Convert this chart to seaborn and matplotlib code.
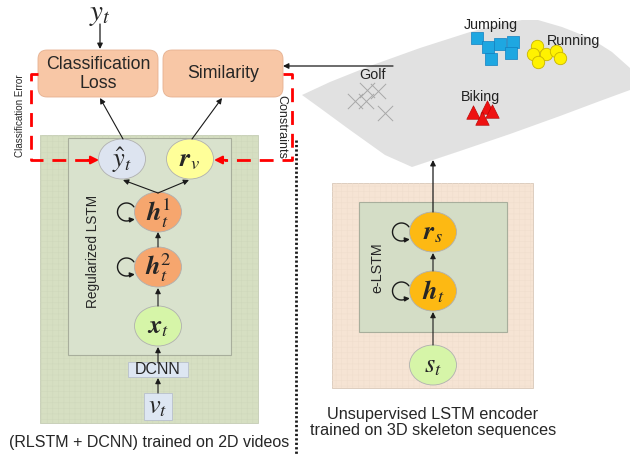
import numpy as np
import pandas as pd
import matplotlib
matplotlib.use("Agg")
import matplotlib.pyplot as plt
from matplotlib.patches import FancyBboxPatch, Rectangle, Ellipse, Polygon
import seaborn as sns

sns.set_theme(style="white")
plt.rcParams['font.family'] = ['Liberation Sans', 'DejaVu Sans']
plt.rcParams['mathtext.fontset'] = 'stix'
plt.rcParams['hatch.linewidth'] = 0.4

# ---------------- data ----------------
box_labels = ["Classification\nLoss", "Similarity"]
left_nodes = [r"$\hat{y}_t$", r"$\mathbfit{r}_v$", r"$\mathbfit{h}_t^1$", r"$\mathbfit{h}_t^2$", r"$\mathbfit{x}_t$"]
right_nodes = [r"$\mathbfit{r}_s$", r"$\mathbfit{h}_t$", r"$s_t$"]
cluster_names = ["Jumping", "Running", "Biking", "Golf"]
jump_x = [477, 488, 500, 513, 491, 511]
jump_y = [38, 47, 44, 42, 59, 53]
run_x = [537, 533, 546, 556, 560, 538]
run_y = [46, 54, 54, 51, 58, 62]
bike_x = [473, 487, 492, 482]
bike_y = [112, 107, 111, 118]
golf_x = [367, 378, 355, 366, 385]
golf_y = [90, 91, 101, 101, 113]

fig = plt.figure(figsize=(6.30, 4.54), dpi=100)
ax = fig.add_axes([0, 0, 1, 1])
ax.set_xlim(0, 630)
ax.set_ylim(454, 0)
ax.axis('off')

def arrow(x0, y0, x1, y1, color='k', lw=0.8, ms=8, z=5):
    ax.annotate('', xy=(x1, y1), xytext=(x0, y0),
                arrowprops=dict(arrowstyle='-|>', color=color, lw=lw,
                                mutation_scale=ms, shrinkA=0, shrinkB=0), zorder=z)

def node(cx, cy, label, fc, w=47, h=40, fs=19):
    ax.add_patch(Ellipse((cx, cy), w, h, facecolor=fc, edgecolor='#b0b0b0', lw=0.6, zorder=4))
    ax.text(cx, cy + 1, label, ha='center', va='center', fontsize=fs, zorder=6)

def self_loop(cx, cy, w=47):
    lx = cx - w / 2 - 8
    r = 9
    t = np.radians(np.linspace(35, 315, 60))
    px = lx + r * np.cos(t)
    py = cy - r * np.sin(t)
    ax.plot(px[:-3], py[:-3], color='k', lw=1.0, zorder=5)
    arrow(px[-4], py[-4], px[-1] + 2, py[-1] + 1, lw=1.0, ms=7)

def textured_rect(x, y, w, h, fc, ec, hc):
    ax.add_patch(Rectangle((x, y), w, h, facecolor=fc, edgecolor=ec, lw=0.6, zorder=1))
    ax.add_patch(Rectangle((x, y), w, h, facecolor='none', edgecolor=hc, lw=0, hatch='+++', zorder=1))

# ---------------- manifold ----------------
top = [(302, 95), (330, 82), (370, 66), (420, 48), (470, 32), (500, 24), (522, 20), (538, 20),
       (562, 27), (590, 38), (612, 52), (630, 68)]
bot = [(630, 90), (600, 101), (560, 116), (510, 134), (460, 151), (412, 167),
       (385, 155), (350, 130), (320, 108)]
ax.add_patch(Polygon(top + bot, closed=True, facecolor='#e1e1e1', edgecolor='none', zorder=1))

sns.scatterplot(x=jump_x, y=jump_y, marker='s', s=80, color='#1ea7e1', edgecolor='#1080c0',
                linewidth=0.5, ax=ax, zorder=3, legend=False)
sns.scatterplot(x=run_x, y=run_y, marker='o', s=80, color='#fff200', edgecolor='#c8b400',
                linewidth=0.6, ax=ax, zorder=3, legend=False)
sns.scatterplot(x=bike_x, y=bike_y, marker='^', s=95, color='#ee1111', edgecolor='#b00000',
                linewidth=0.4, ax=ax, zorder=3, legend=False)
sns.scatterplot(x=golf_x, y=golf_y, marker='x', s=120, color='#a8a8a8',
                linewidth=0.7, ax=ax, zorder=3, legend=False)

label_pos = {"Jumping": (491, 25), "Running": (574, 41), "Biking": (481, 97), "Golf": (373, 75)}
for n in cluster_names:
    ax.text(*label_pos[n], n, ha='center', va='center', fontsize=10.3, color='#222222', zorder=6)

# line from manifold to Similarity
arrow(393, 66, 283, 66, lw=0.9)

# ---------------- left panel ----------------
textured_rect(40, 135, 218, 288, '#d6dfc2', '#c4ccb4', '#cfd8bc')
ax.add_patch(Rectangle((68, 138), 163, 217, facecolor='#d9e2cd', edgecolor='#a8ae9c', lw=0.8, zorder=2))

for (x0, lab) in zip([38, 163], box_labels):
    ax.add_patch(FancyBboxPatch((x0 + 6, 56), 108, 35, boxstyle='round,pad=6,rounding_size=9',
                                facecolor='#f8c7a6', edgecolor='#e5b08f', lw=0.6, zorder=3))
    ax.text(x0 + 60, 74, lab, ha='center', va='center', fontsize=12.8, linespacing=1.1, zorder=6)

ax.text(100, 14, r"$y_t$", ha='center', va='center', fontsize=21)
arrow(100, 24, 100, 49, lw=0.9)

node(122, 159, left_nodes[0], '#dde4f0')
node(190, 159, left_nodes[1], '#ffff99')
node(158, 212, left_nodes[2], '#f6a66e')
node(158, 267, left_nodes[3], '#f6a66e')
node(158, 326, left_nodes[4], '#d6f5a8')
self_loop(158, 212)
self_loop(158, 267)

arrow(123, 139, 100, 98)
arrow(192, 139, 222, 98)
arrow(158, 193, 123, 180)
arrow(158, 193, 189, 180)
arrow(158, 247, 158, 232)
arrow(158, 306, 158, 288)
arrow(158, 363, 158, 347)
arrow(158, 393, 158, 378)

ax.add_patch(Rectangle((128, 362), 60, 15, facecolor='#dde6f2', edgecolor='#b8c0cc', lw=0.6, zorder=4))
ax.text(158, 370, "DCNN", ha='center', va='center', fontsize=11.5, zorder=6)
ax.add_patch(Rectangle((144, 393), 28, 27, facecolor='#dde6f2', edgecolor='#b8c0cc', lw=0.6, zorder=4))
ax.text(158, 407, r"$v_t$", ha='center', va='center', fontsize=19, zorder=6)

ax.text(93, 251, "Regularized LSTM", rotation=90, ha='center', va='center', fontsize=9.8, zorder=6)
ax.text(149, 442, "(RLSTM + DCNN) trained on 2D videos", ha='center', va='center', fontsize=11.5)

# red dashed feedback
red = '#ff0000'
ax.plot([38, 31, 31, 90], [74, 74, 160, 160], color=red, lw=2, dashes=(5, 3.2), zorder=5)
arrow(88, 160, 99, 160, color=red, lw=1.5, ms=12)
ax.plot([283, 292, 292, 224], [74, 74, 160, 160], color=red, lw=2, dashes=(5, 3.2), zorder=5)
arrow(226, 160, 214, 160, color=red, lw=1.5, ms=12)
ax.text(20, 116, "Classification Error", rotation=90, ha='center', va='center', fontsize=7.1)
ax.text(281, 127, "Constraints", rotation=270, ha='center', va='center', fontsize=9)

# dotted separator
ax.plot([296, 296], [140, 454], color='k', lw=2, dashes=(0.8, 0.8), zorder=5)

# ---------------- right panel ----------------
textured_rect(332, 183, 201, 205, '#f6e4d4', '#d8c8b8', '#f0decd')
ax.add_patch(Rectangle((359, 202), 148, 130, facecolor='#d4ddc6', edgecolor='#a8ae9c', lw=0.8, zorder=2))
node(433, 232, right_nodes[0], '#fdb913')
node(433, 291, right_nodes[1], '#fdb913')
node(433, 365, right_nodes[2], '#d6f5a8')
self_loop(433, 232)
self_loop(433, 291)
arrow(433, 212, 433, 160, lw=0.9)
arrow(433, 271, 433, 253)
arrow(433, 345, 433, 312)
ax.text(377, 268, "e-LSTM", rotation=90, ha='center', va='center', fontsize=10.3, zorder=6)
ax.text(433, 415, "Unsupervised LSTM encoder", ha='center', va='center', fontsize=11.7)
ax.text(433, 431, "trained on 3D skeleton sequences", ha='center', va='center', fontsize=11.7)

fig.savefig("out.png", dpi=100)
